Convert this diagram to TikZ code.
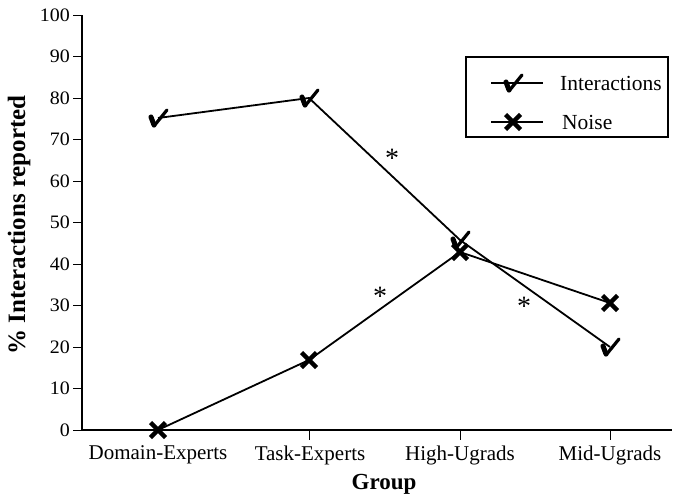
\documentclass[tikz,border=0pt]{standalone}
\usepackage{fontspec}
\setmainfont{Liberation Serif}
\begin{document}
\begin{tikzpicture}[x=1pt,y=-1pt,
  axisline/.style={line width=1.8pt},
  tickline/.style={line width=0.9pt},
  dataline/.style={line width=1.8pt},
  ticklab/.style={font=\fontsize{19}{22}\selectfont, xscale=1.05, anchor=east, inner sep=0},
  catlab/.style={font=\fontsize{21}{25}\selectfont, inner sep=0},
  leglab/.style={font=\fontsize{21.5}{25}\selectfont, anchor=west, inner sep=0},
  star/.style={font=\fontsize{28}{32}\selectfont, inner sep=0},
  chk/.pic={\draw[line width=5pt, line cap=round] (-7,-1) -- (-4,7);
            \draw[line width=3.2pt, line cap=round, line join=round] (-4,8) -- (9,-8);},
  crs/.pic={\draw[line width=4.5pt] (-7.5,-7.5) -- (7.5,7.5) (-7.5,7.5) -- (7.5,-7.5);}
]
\useasboundingbox (0,0) rectangle (676,499);
% axes
\coordinate (o) at (82,430);
\coordinate (ytop) at (82,15);
\coordinate (xend) at (672,430);
\draw[axisline] (ytop) -- (o) -- (xend);
% y ticks and labels
\foreach \v in {0,10,...,100}{
  \pgfmathsetmacro{\yy}{430-4.15*\v}
  \coordinate (yt\v) at (82,\yy);
  \draw[tickline] (yt\v) -- ++(-9,0);
  \node[ticklab] (yl\v) at (70,\yy) {\v};
}
% x ticks
\foreach \xx/\n in {309/2,460/3,610/4}{
  \coordinate (xt\n) at (\xx,430);
  \draw[tickline] (xt\n) -- ++(0,10);
}
% category labels
\node[catlab] (c1) at (158,455) {Domain-Experts};
\node[catlab] (c2) at (310,455) {Task-Experts};
\node[catlab] (c3) at (460,455) {High-Ugrads};
\node[catlab] (c4) at (610,455) {Mid-Ugrads};
% axis titles
\node[font=\bfseries\fontsize{23}{27}\selectfont, inner sep=0] (gx) at (384,484) {Group};
\node[font=\bfseries\fontsize{25}{30}\selectfont, rotate=90, inner sep=0] (gy) at (19,225) {\% Interactions reported};
% data points
\coordinate (i1) at (158,118);
\coordinate (i2) at (309,98);
\coordinate (i3) at (460,240);
\coordinate (i4) at (610,347);
\coordinate (n1) at (158,430);
\coordinate (n2) at (309,360);
\coordinate (n3) at (460,252);
\coordinate (n4) at (610,303);
\draw[dataline] (i1) -- (i2) -- (i3) -- (i4);
\draw[dataline] (n1) -- (n2) -- (n3) -- (n4);
\foreach \p in {i1,i2,i3,i4} \pic at (\p) {chk};
\foreach \p in {n1,n2,n3,n4} \pic at (\p) {crs};
% significance stars
\node[star] (s1) at (392,158) {*};
\node[star] (s2) at (380,296) {*};
\node[star] (s3) at (524,306) {*};
% legend
\coordinate (lb1) at (466,57);
\coordinate (lb2) at (668,137);
\draw[line width=1.5pt] (lb1) rectangle (lb2);
\coordinate (la1) at (491,83);
\coordinate (la2) at (543,83);
\coordinate (lam) at (513,83);
\coordinate (lc1) at (491,122);
\coordinate (lc2) at (543,122);
\coordinate (lcm) at (513,122);
\draw[dataline] (la1) -- (la2);
\draw[dataline] (lc1) -- (lc2);
\pic at (lam) {chk};
\pic at (lcm) {crs};
\node[leglab] (t1) at (560,83) {Interactions};
\node[leglab] (t2) at (562,122) {Noise};
\end{tikzpicture}
\end{document}
